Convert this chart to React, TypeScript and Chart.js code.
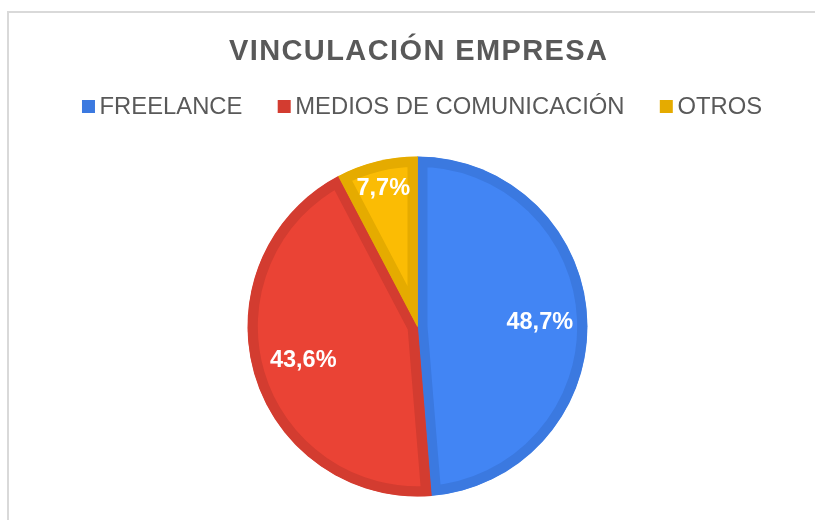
import React, { useEffect, useRef } from "react";
import { Chart, registerables } from "chart.js";

Chart.register(...registerables);

const TITLE = "VINCULACIÓN EMPRESA";
const categories = ["FREELANCE", "MEDIOS DE COMUNICACIÓN", "OTROS"];
const values = [48.7, 43.6, 7.7];
const fillColors = ["#4285F4", "#EA4335", "#FBBC04"];
const borderColors = ["#3B79E0", "#D33C30", "#E5AB00"];
const labelRadiusFrac = [0.72, 0.7, 0.84];

const TEXT_COLOR = "#595959";
const FONT = "Liberation Sans, Arial, sans-serif";

const decorPlugin = {
  id: "decor",
  beforeDraw(chart: any) {
    const ctx = chart.ctx;
    const W = chart.width;
    const H = chart.height;
    ctx.save();
    ctx.fillStyle = "#ffffff";
    ctx.fillRect(0, 0, W, H);
    // frame
    ctx.fillStyle = "#D9D9D9";
    ctx.fillRect(7, 11, 2, H - 11);
    ctx.fillRect(7, 11, W - 7, 2);

    // title
    ctx.fillStyle = TEXT_COLOR;
    ctx.font = `bold 29px ${FONT}`;
    (ctx as any).letterSpacing = "1.4px";
    ctx.textAlign = "center";
    ctx.textBaseline = "alphabetic";
    ctx.fillText(TITLE, 418 + 0.7, 59.5);
    (ctx as any).letterSpacing = "0px";

    // legend
    ctx.font = `23.8px ${FONT}`;
    const box = 13;
    const gapBoxText = 4.6;
    const gapItems = 35.3;
    const widths = categories.map((c) => ctx.measureText(c).width);
    const total =
      widths.reduce((a, w) => a + box + gapBoxText + w, 0) +
      gapItems * (categories.length - 1);
    let x = 422 - total / 2;
    ctx.textAlign = "left";
    categories.forEach((c, i) => {
      ctx.fillStyle = borderColors[i];
      ctx.fillRect(x, 100, box, box);
      x += box + gapBoxText;
      ctx.fillStyle = TEXT_COLOR;
      ctx.fillText(c, x, 114.3);
      x += widths[i] + gapItems;
    });
    ctx.restore();
  },
  afterDatasetsDraw(chart: any) {
    const ctx = chart.ctx;
    const meta = chart.getDatasetMeta(0);
    ctx.save();
    ctx.fillStyle = "#ffffff";
    ctx.font = `bold 23.5px ${FONT}`;
    ctx.textAlign = "center";
    ctx.textBaseline = "middle";
    meta.data.forEach((arc: any, i: number) => {
      const p = arc.getProps(["x", "y", "startAngle", "endAngle", "outerRadius"], true);
      const mid = (p.startAngle + p.endAngle) / 2;
      const r = p.outerRadius * labelRadiusFrac[i];
      const v = chart.data.datasets[0].data[i] as number;
      const txt = v.toFixed(1).replace(".", ",") + "%";
      ctx.fillText(txt, p.x + Math.cos(mid) * r, p.y + Math.sin(mid) * r + 1);
    });
    ctx.restore();
  },
};

export default function App() {
  const ref = useRef<HTMLCanvasElement | null>(null);
  useEffect(() => {
    if (!ref.current) return;
    const chart = new Chart(ref.current, {
      type: "pie",
      data: {
        labels: categories,
        datasets: [
          {
            data: values,
            backgroundColor: fillColors,
            borderColor: borderColors,
            borderWidth: 10,
            borderAlign: "inner",
            hoverOffset: 0,
            offset: 0,
            radius: 170,
          } as any,
        ],
      },
      options: {
        animation: false,
        responsive: false,
        maintainAspectRatio: false,
        events: [],
        layout: { padding: { top: 143, bottom: 10, left: 40, right: 20 } },
        plugins: {
          legend: { display: false },
          title: { display: false },
          tooltip: { enabled: false },
        },
      },
      plugins: [decorPlugin],
    });
    return () => chart.destroy();
  }, []);
  return (
    <div style={{ position: "absolute", left: 0, top: 0, width: 815, height: 520 }}>
      <canvas ref={ref} width={815} height={520} style={{ display: "block" }} />
    </div>
  );
}
